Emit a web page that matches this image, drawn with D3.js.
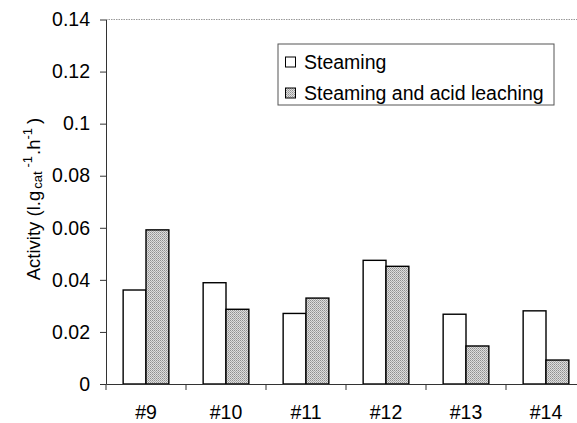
<!DOCTYPE html>
<html lang="en">
<head>
<meta charset="UTF-8">
<title>Activity bar chart</title>
<script src="https://d3js.org/d3.v7.min.js"></script>
<style>
  body { margin: 0; background: #fff; }
  svg { display: block; font-family: "Liberation Sans", Arial, sans-serif; }
  .axis text { fill: #000; }
  .axis path, .axis line { stroke: #333; }
</style>
</head>
<body>
<script>
const categories = ['#9', '#10', '#11', '#12', '#13', '#14'];
const seriesNames = ['Steaming', 'Steaming and acid leaching'];
const steaming = [0.0361, 0.0389, 0.0271, 0.0475, 0.0268, 0.0281];
const acidLeaching = [0.0592, 0.0287, 0.0330, 0.0452, 0.0146, 0.0092];
const yTicks = [0, 0.02, 0.04, 0.06, 0.08, 0.1, 0.12, 0.14];
const yTickLabels = ['0', '0.02', '0.04', '0.06', '0.08', '0.1', '0.12', '0.14'];

const width = 577, height = 423;
const plot = { left: 106, right: 586, top: 19.5, bottom: 384 };
const fontSize = 19.5;

const svg = d3.select('body').append('svg')
  .attr('width', width).attr('height', height);

// hatched grey fill like the original
const defs = svg.append('defs');
const pat = defs.append('pattern')
  .attr('id', 'dots').attr('width', 2).attr('height', 2)
  .attr('patternUnits', 'userSpaceOnUse');
pat.append('rect').attr('width', 2).attr('height', 2).attr('fill', '#dedede');
pat.append('rect').attr('width', 1).attr('height', 1).attr('fill', '#909090');
pat.append('rect').attr('x', 1).attr('y', 1).attr('width', 1).attr('height', 1).attr('fill', '#ababab');

const x = d3.scaleBand().domain(categories).range([plot.left, plot.right]).padding(0);
const xs = d3.scaleBand().domain(seriesNames).range([0, x.bandwidth()])
  .paddingInner(0).paddingOuter(0.75);
const y = d3.scaleLinear().domain([0, 0.14]).range([plot.bottom, plot.top]);

// top border (dotted)
svg.append('line')
  .attr('x1', plot.left).attr('x2', plot.right)
  .attr('y1', y(0.14)).attr('y2', y(0.14))
  .attr('stroke', '#999').attr('stroke-dasharray', '1.5,1');

// bars
const rows = categories.map((c, i) => ({ cat: c, values: [steaming[i], acidLeaching[i]] }));
const groups = svg.selectAll('g.cat').data(rows).enter().append('g')
  .attr('class', 'cat')
  .attr('transform', d => `translate(${x(d.cat)},0)`);
groups.selectAll('rect')
  .data(d => d.values.map((v, j) => ({ s: seriesNames[j], v: v })))
  .enter().append('rect')
  .attr('x', d => xs(d.s))
  .attr('y', d => y(d.v))
  .attr('width', xs.bandwidth())
  .attr('height', d => y(0) - y(d.v))
  .attr('fill', (d, j) => j === 0 ? '#fff' : 'url(#dots)')
  .attr('stroke', '#000').attr('stroke-width', 1.4);

// y axis
const yAxis = d3.axisLeft(y).tickValues(yTicks)
  .tickFormat((d, i) => yTickLabels[i])
  .tickSize(6).tickSizeOuter(0).tickPadding(10);
svg.append('g').attr('class', 'axis')
  .attr('transform', `translate(${plot.left},0)`)
  .call(yAxis)
  .call(g => g.selectAll('text').attr('font-size', fontSize));

// x axis: labels at band centres, ticks between categories
const xAxis = d3.axisBottom(x).tickSize(0).tickSizeOuter(0).tickPadding(21);
const gx = svg.append('g').attr('class', 'axis')
  .attr('transform', `translate(0,${plot.bottom})`)
  .call(xAxis);
gx.selectAll('text').attr('font-size', fontSize);
gx.selectAll('line.sep')
  .data(categories.concat(['end']))
  .enter().append('line')
  .attr('class', 'sep')
  .attr('x1', d => d === 'end' ? plot.right : x(d))
  .attr('x2', d => d === 'end' ? plot.right : x(d))
  .attr('y1', 0).attr('y2', 6);

// y axis title
const title = svg.append('text')
  .attr('transform', 'translate(40,199) rotate(-90)')
  .attr('text-anchor', 'middle')
  .attr('font-size', 18.5);
title.append('tspan').text('Activity (l.g');
title.append('tspan').attr('font-size', 13).attr('dy', 2).attr('dx', 2).text('cat');
title.append('tspan').attr('font-size', 13).attr('dy', -10).attr('dx', 4).text('-1');
title.append('tspan').attr('dy', 8).attr('dx', 1).text('.h');
title.append('tspan').attr('font-size', 13).attr('dy', -8).text('-1');
title.append('tspan').attr('dy', 8).attr('dx', 4).text(')');

// legend
const legend = svg.append('g');
legend.append('rect')
  .attr('x', 278).attr('y', 44).attr('width', 276).attr('height', 61)
  .attr('fill', '#fff').attr('stroke', '#555');
seriesNames.forEach((s, i) => {
  const ly = 62 + i * 31;
  legend.append('rect')
    .attr('x', 285.5).attr('y', ly - 5).attr('width', 10).attr('height', 10)
    .attr('fill', i === 0 ? '#fff' : 'url(#dots)')
    .attr('stroke', '#000');
  legend.append('text')
    .attr('x', 304).attr('y', ly + 6.5)
    .attr('font-size', fontSize)
    .text(s);
});
</script>
</body>
</html>
